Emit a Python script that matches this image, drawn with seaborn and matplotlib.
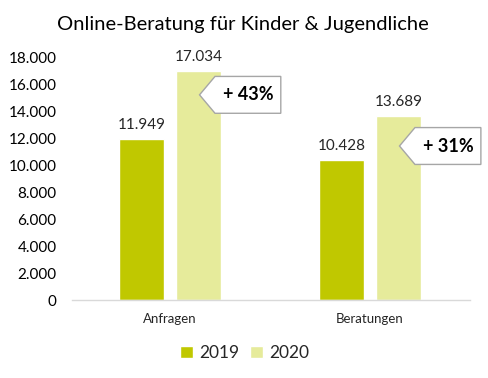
import matplotlib
matplotlib.use("Agg")
import matplotlib.pyplot as plt
from matplotlib.path import Path
import seaborn as sns
import pandas as pd

# Daten
kategorien = ["Anfragen", "Beratungen"]
jahre = ["2019", "2020"]
werte_2019 = [11949, 10428]
werte_2020 = [17034, 13689]
zuwachs = ["+ 43%", "+ 31%"]
zuwachs_y = [15250, 11450]
yticks = [0, 2000, 4000, 6000, 8000, 10000, 12000, 14000, 16000, 18000]

farben = {"2019": "#c0c800", "2020": "#e6eb9b"}

df = pd.DataFrame({
    "Kategorie": kategorien * 2,
    "Jahr": ["2019"] * 2 + ["2020"] * 2,
    "Wert": werte_2019 + werte_2020,
})


def de(v):
    return f"{v:,.0f}".replace(",", ".")


def tag_box(x0, y0, width, height, mutation_size):
    # Fähnchen mit Spitze nach links
    padx = 0.42 * mutation_size
    pady = 0.55 * mutation_size
    x0, y0 = x0 - padx, y0 - pady
    x1, y1 = x0 + width + 2 * padx, y0 + height + 2 * pady
    h = y1 - y0
    tip = 0.42 * h
    verts = [(x0, y0), (x1, y0), (x1, y1), (x0, y1),
             (x0 - tip, (y0 + y1) / 2), (x0, y0)]
    return Path(verts, closed=True)


sns.set_style("white")
plt.rcParams["font.family"] = ["Lato", "DejaVu Sans"]

fig = plt.figure(figsize=(4.89, 3.78), dpi=100)
ax = fig.add_axes([0.147, 0.206, 0.814, 0.641])

sns.barplot(data=df, x="Kategorie", y="Wert", hue="Jahr", hue_order=jahre,
            palette=farben, width=0.57, gap=0.21, saturation=1, ax=ax)

for cont in ax.containers:
    ax.bar_label(cont, labels=[de(b.get_height()) for b in cont],
                 padding=5, fontsize=11, color="#262626")

for i, txt in enumerate(zuwachs):
    ax.text(i + 0.39, zuwachs_y[i], txt, ha="center", va="center",
            fontsize=13, fontweight="bold", color="#000000",
            bbox=dict(boxstyle=tag_box, fc="white", ec="#a6a6a6", lw=1))

ax.set_ylim(0, 18000)
ax.set_xlim(-0.49, 1.5)
ax.set_yticks(yticks)
ax.set_yticklabels([de(v) for v in yticks], fontsize=11, color="#000000")
ax.tick_params(axis="x", labelsize=9.5, length=0, pad=9, colors="#262626")
ax.tick_params(axis="y", length=0, pad=11)
ax.set_xlabel("")
ax.set_ylabel("")
for s in ["left", "right", "top"]:
    ax.spines[s].set_visible(False)
ax.spines["bottom"].set_color("#d9d9d9")
ax.spines["bottom"].set_linewidth(1)

fig.text(0.497, 0.934, "Online-Beratung für Kinder & Jugendliche",
         ha="center", va="center", fontsize=14.5, color="#000000")

handles, labels = ax.get_legend_handles_labels()
ax.legend_.remove()
fig.legend(handles, labels, loc="center", bbox_to_anchor=(0.5, 0.066),
           ncol=2, frameon=False, fontsize=12.5, handlelength=0.75,
           handleheight=0.75, handletextpad=0.35, columnspacing=0.6)

fig.savefig("out.png", dpi=100)
